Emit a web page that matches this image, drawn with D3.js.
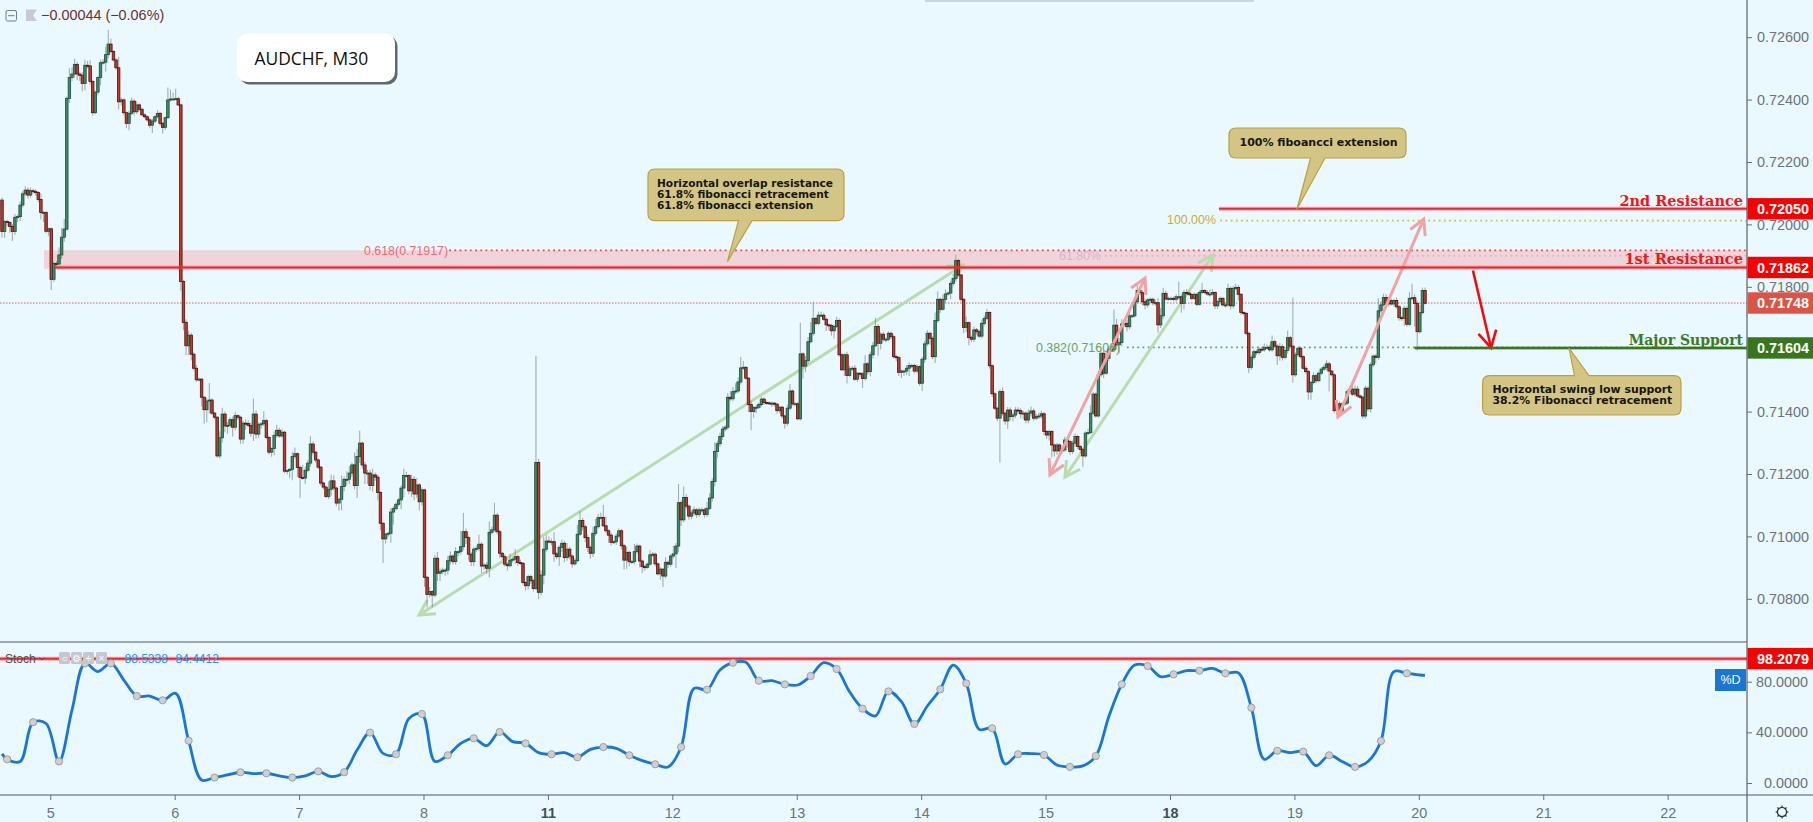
<!DOCTYPE html>
<html><head><meta charset="utf-8">
<script src="https://cdn.jsdelivr.net/npm/d3@7/dist/d3.min.js"></script>
<style>
html,body{margin:0;padding:0;background:#e9f9ff;overflow:hidden}
svg{display:block}
text{font-family:"Liberation Sans",Arial,sans-serif}
</style></head><body><svg id="c" width="1813" height="822"></svg>
<script>
// close of each 30-minute bar, in 1e-5 price units; each bar opens at the previous close
const firstOpen = 72078;
const closes = [
71977,72009,72006,71993,71977,72023,72025,72062,72098,72110,
72094,72108,72105,72102,72080,72038,72038,71978,71986,71824,
71875,71873,71902,71959,71985,72404,72471,72482,72513,72482,
72478,72452,72510,72508,72458,72358,72424,72471,72518,72520,
72544,72578,72554,72527,72502,72393,72399,72358,72324,72356,
72395,72361,72383,72369,72351,72345,72335,72318,72331,72345,
72356,72324,72311,72342,72399,72402,72402,72403,72383,71817,
71686,71611,71645,71584,71539,71502,71504,71446,71406,71434,
71437,71395,71382,71258,71316,71392,71354,71356,71374,71350,
71387,71382,71312,71363,71362,71356,71331,71392,71328,71358,
71361,71371,71317,71270,71282,71324,71340,71322,71334,71209,
71211,71215,71256,71265,71221,71189,71187,71212,71235,71296,
71270,71245,71222,71171,71158,71128,71151,71178,71155,71107,
71119,71160,71183,71183,71203,71229,71163,71256,71299,71229,
71203,71203,71163,71197,71190,71141,71042,70992,71007,71010,
71078,71089,71103,71117,71155,71195,71195,71146,71183,71136,
71165,71111,71149,70869,70814,70823,70812,70930,70882,70887,
70892,70892,70922,70937,70919,70951,70951,70967,71015,70996,
70943,70919,70959,70961,70975,70905,70908,70898,71013,71021,
71068,71015,70946,70935,70911,70906,70924,70927,70935,70916,
70914,70852,70842,70871,70858,70833,71237,70821,70876,70959,
70985,70983,70983,70944,70935,70965,70978,70932,70959,70937,
70912,70922,71007,71051,71031,70996,70965,70946,71010,71031,
71060,71061,71034,71018,71004,70981,70983,71001,71018,70970,
70924,70949,70919,70919,70951,70969,70921,70903,70901,70911,
70941,70943,70912,70880,70895,70873,70917,70911,70937,70944,
70969,71108,71053,71125,71097,71065,71075,71085,71070,71085,
71085,71070,71090,71123,71176,71272,71297,71320,71344,71350,
71446,71441,71464,71466,71495,71540,71542,71507,71423,71400,
71413,71414,71423,71440,71429,71428,71427,71427,71424,71403,
71414,71386,71363,71411,71466,71425,71425,71377,71585,71546,
71563,71624,71651,71699,71683,71709,71709,71696,71678,71676,
71659,71673,71692,71582,71534,71582,71516,71537,71539,71504,
71523,71521,71506,71553,71528,71582,71611,71673,71619,71648,
71632,71632,71651,71640,71576,71573,71526,71530,71530,71539,
71548,71548,71530,71544,71491,71568,71617,71651,71635,71576,
71692,71760,71728,71760,71777,71780,71811,71827,71884,71838,
71760,71670,71685,71638,71632,71662,71656,71642,71683,71699,
71718,71547,71457,71411,71379,71464,71395,71370,71405,71384,
71389,71405,71403,71393,71395,71373,71395,71402,71379,71384,
71386,71393,71336,71325,71336,71293,71274,71293,71274,71277,
71309,71304,71272,71299,71320,71288,71279,71258,71331,71333,
71395,71456,71386,71518,71587,71523,71571,71600,71598,71677,
71614,71621,71681,71683,71672,71707,71707,71752,71788,71781,
71752,71742,71758,71760,71749,71749,71678,71707,71779,71761,
71763,71763,71760,71768,71768,71747,71782,71780,71775,71763,
71776,71744,71782,71788,71782,71777,71777,71782,71739,71752,
71763,71742,71742,71795,71739,71795,71798,71776,71718,71715,
71651,71542,71574,71592,71589,71600,71598,71606,71606,71598,
71624,71610,71579,71608,71574,71596,71637,71610,71518,71582,
71603,71576,71539,71528,71463,71493,71515,71499,71523,71536,
71542,71553,71530,71518,71403,71425,71403,71425,71427,71464,
71472,71456,71472,71450,71446,71386,71475,71409,71550,71578,
71574,71723,71742,71766,71745,71756,71745,71756,71736,71701,
71699,71731,71680,71763,71765,71747,71656,71717,71788,71747];
// wick length above the body top of each bar, same units
const upperWick = [
8,6,6,5,8,10,6,12,8,12, 8,10,6,8,4,20,6,6,4,4, 6,8,25,30,32,6,30,22,18,8, 8,10,18,14,18,6,4,4,10,10,
25,45,18,4,6,35,8,5,4,8, 12,6,12,5,6,4,4,6,8,5, 10,5,4,4,40,30,20,32,6,4, 5,10,15,8,6,10,5,4,4,10,
55,6,4,4,20,20,8,10,8,10, 12,4,5,8,12,10,10,50,12,8, 6,30,6,6,4,12,18,8,10,4, 4,4,15,20,4,6,40,12,10,25,
8,4,4,4,4,6,25,20,18,4, 6,35,10,25,22,8,40,25,40,5, 10,10,10,20,8,8,4,4,5,5, 12,8,6,6,8,22,12,4,15,10,
22,6,8,4,4,15,4,10,20,10, 8,6,15,15,5,14,5,50,60,10, 6,6,8,10,30,6,6,10,35,10, 40,6,6,4,8,5,20,6,25,6,
10,4,4,6,6,6,342,12,15,40, 20,15,10,30,6,6,12,8,20,8, 6,8,30,30,8,6,10,6,20,25, 12,15,40,30,4,8,5,8,8,6,
6,18,6,5,25,8,5,5,5,5, 15,6,5,4,6,4,15,6,6,25, 10,60,8,35,10,6,8,10,6,8, 8,8,20,15,10,30,10,12,10,8,
14,20,15,25,14,35,20,4,4,12, 5,8,6,8,5,6,4,6,4,4, 5,5,4,12,22,5,6,6,100,6, 15,15,35,53,4,12,12,6,6,4,
6,6,12,6,6,5,10,10,6,10, 4,4,6,28,6,10,12,28,8,6, 8,5,6,6,6,6,6,5,5,10, 10,5,5,8,4,8,10,10,6,6,
25,25,6,15,15,6,8,15,18,6, 4,5,20,4,5,10,6,6,12,8, 12,4,5,6,4,8,14,5,10,8, 8,10,10,8,8,6,12,14,8,8,
10,10,5,5,6,5,5,6,5,8, 10,6,6,8,10,5,5,5,6,12, 25,8,5,12,8,8,25,12,15,50, 20,15,15,12,10,10,6,8,25,6,
8,8,6,6,5,8,15,25,18,8, 6,6,6,8,48,8,8,10,6,6, 6,5,6,25,5,8,15,10,4,6, 6,5,8,15,6,8,12,8,4,4,
4,6,8,6,6,8,8,12,10,8, 20,6,6,12,8,10,22,6,155,8, 6,6,5,6,5,6,10,6,6,6, 8,12,6,4,4,6,8,4,6,8,
10,20,12,10,6,5,8,6,8,5, 6,40,12,12,10,6,6,5,10,6, 6,8,6,20,45,10,8,25,10,10];
// wick length below the body bottom of each bar, same units
const lowerWick = [
20,20,12,20,30,10,15,14,8,6, 12,8,6,10,8,22,30,6,14,34, 8,12,5,12,15,5,15,12,12,20, 18,25,22,8,10,10,5,10,25,6,
30,12,5,5,6,25,12,8,16,22, 6,12,8,5,4,5,6,10,25,6, 5,8,20,8,4,6,4,4,4,30, 25,30,30,20,8,6,5,30,45,40,
40,6,6,6,8,15,20,25,8,30, 10,8,15,15,20,6,12,25,15,12, 12,8,6,8,15,22,8,6,6,6, 10,25,35,8,30,65,5,18,6,12,
8,8,6,8,8,6,8,20,8,10, 25,35,15,20,15,12,12,40,20,12, 35,35,15,20,12,25,22,77,15,8, 30,40,6,6,30,30,6,12,20,20,
12,28,12,30,42,10,38,8,25,25, 8,18,15,12,8,10,15,10,12,20, 20,15,15,10,8,22,12,18,30,6, 5,8,15,10,8,15,6,8,15,10,
6,6,15,12,10,10,5,22,10,30, 8,5,12,25,8,30,15,15,10,10, 12,6,6,5,12,15,15,18,12,8, 6,5,5,6,25,10,5,10,5,12,
30,28,15,6,8,5,20,20,12,5, 6,6,8,5,20,35,8,12,8,8, 45,20,20,8,8,12,10,8,10,8, 8,10,8,6,12,15,20,10,10,8,
8,6,8,8,6,8,6,5,25,60, 20,18,6,6,8,6,6,12,8,10, 8,8,18,8,6,6,5,5,6,40, 20,10,6,8,6,6,5,5,20,15,
15,25,6,6,5,20,25,6,6,6, 8,10,30,6,10,15,12,5,40,20, 8,10,6,8,6,12,12,18,15,12, 25,8,8,6,8,25,12,6,20,8,
20,8,12,5,10,6,20,8,10,6, 8,18,15,25,10,10,10,6,8,6, 5,10,10,6,10,142,8,12,25,12, 15,10,10,14,18,10,10,10,8,6,
8,8,12,12,18,40,18,12,14,8, 6,20,10,8,12,8,12,35,6,8, 5,6,5,5,6,15,5,10,6,6, 15,25,12,8,15,8,6,5,5,8,
12,15,8,8,8,10,25,10,10,5, 6,6,6,8,8,30,20,6,5,6, 5,6,5,6,5,6,8,5,10,10, 8,5,8,6,12,8,6,20,8,6,
6,18,8,8,8,6,6,6,5,6, 6,5,30,15,10,6,10,8,25,6, 6,6,5,6,25,25,6,8,6,6, 5,10,65,6,8,6,6,6,6,6,
6,6,8,6,6,10,8,8,12,8, 20,8,8,6,6,8,5,8,6,10, 8,25,8,6,6,74,60,6,5,4];
// %D value at the start, then at bar 2, 7, 12, ... (every 5 bars)
const stochStart = 23;
const stochD = [
18.7,17,48,47,17,57.6,94.5,88,94.5,81.3,68.7,68.7,65.3,70.8,33.4,2.4,4.3,6.4,8.5,7.4,
7.7,5.6,4.3,5.6,9.2,5,8.5,26,39.8,23.4,22.7,51,54.5,17,21.9,31.3,35.3,29.5,40.3,32.7,
31.3,24,22.7,24,20.3,26.6,28.4,27.4,21.9,17.7,14.8,12.7,28.4,74.7,73.7,89.2,95,95.3,80.8,80.8,
77.9,77.4,84.5,95,90,72,58.7,53,72.4,64.2,46.6,60.8,74,93.1,78.7,42.4,43.2,15,22.7,23.2,
22.1,14.2,12.7,13.5,21.3,52.4,77.9,93.1,92.4,84,85.8,88.7,88.7,90.5,86.6,87,59.5,18.7,25.5,24,
24.8,13.7,21.9,17,12.7,17,33.2,87.9,86.6,85.3];
const stochEnd = 85;
const dayBars = [19,67,115,163,211,259,307,355,403,451,499,547,595,643];
const dayLabels = ["5","6","7","8","11","12","13","14","15","18","19","20","21","22"];
const boldDays = ["11","18"];
const priceTicks = [0.726,0.724,0.722,0.72,0.718,0.716,0.714,0.712,0.71,0.708];
const stochTicks = [0,40,80];
const res1 = 0.71862, res2 = 0.7205, support = 0.71604, lastPrice = 0.71748, stochLevel = 98.2079;
const fib618 = 0.71917, fibExt618 = 0.71899, fibExt100 = 0.72012, fib382 = 0.71606;
// trend arrows: [bar, price, bar, price, head at start?]
const arrowsGreen = [[160.9,0.70748,370.8,0.7187,true],[410.1,0.7119,467.2,0.71902,true]];
const arrowsPink = [[404.3,0.71197,441,0.71828,true],[515.4,0.71383,548.5,0.72017,true]];
const arrowsRed = [[567.5,0.71852,574.5,0.71604,false]];

const svg = d3.select("#c");
const W = 1813, H = 822, axisX = 1747, paneTop = 642, paneBot = 795;
const x = d3.scaleLinear().domain([0,550]).range([2,1427.6]);
const y = d3.scaleLinear().domain([0.722,0.708]).range([162,598.8]);
const ys = d3.scaleLinear().domain([0,80]).range([783,681.7]);
const BG="#e9f9ff";
svg.append("rect").attr("width",W).attr("height",H).attr("fill",BG);
svg.append("rect").attr("x",925).attr("y",0).attr("width",329).attr("height",2).attr("fill","#c9d6dd");

// zone
svg.append("rect").attr("x",x(16.2)).attr("width",axisX-x(16.2)).attr("y",y(fib618)).attr("height",y(res1)-y(fib618)+1.5).attr("fill","#efd5da");

// last price line
svg.append("line").attr("x1",0).attr("x2",axisX).attr("y1",y(lastPrice)).attr("y2",y(lastPrice)).attr("stroke","#d9605a").attr("stroke-width",1).attr("stroke-dasharray","1.5 1.5");

// dotted levels
function dots(p,b0,col,w){svg.append("line").attr("x1",x(b0)).attr("x2",axisX).attr("y1",y(p)).attr("y2",y(p)).attr("stroke",col).attr("stroke-width",w||1.8).attr("stroke-dasharray","1.8 3.4");}
dots(fib618,172.5,"#f4434a");
dots(fibExt618,425.5,"#dcb4d4");
dots(fibExt100,470,"#d5bb4e");
dots(fib382,434,"#6da35f");

// arrows under candles
function arrowPath(a,size){
  const x1=x(a[0]),y1=y(a[1]),x2=x(a[2]),y2=y(a[3]);
  const ang=Math.atan2(y2-y1,x2-x1),s=size,da=0.5;
  let d=`M${x1},${y1}L${x2},${y2}`;
  d+=`M${x2-s*Math.cos(ang-da)},${y2-s*Math.sin(ang-da)}L${x2},${y2}L${x2-s*Math.cos(ang+da)},${y2-s*Math.sin(ang+da)}`;
  if(a[4]) d+=`M${x1+s*Math.cos(ang-da)},${y1+s*Math.sin(ang-da)}L${x1},${y1}L${x1+s*Math.cos(ang+da)},${y1+s*Math.sin(ang+da)}`;
  return d;
}
svg.selectAll(".ag").data(arrowsGreen).join("path").attr("d",d=>arrowPath(d,17)).attr("fill","none").attr("stroke","#b9dcac").attr("stroke-width",3);

// candles
const bars = closes.map((c,i)=>{
  const o = i? closes[i-1]:firstOpen;
  const top=Math.max(o,c), bot=Math.min(o,c);
  return {i,o:o/1e5,c:c/1e5,h:(top+(upperWick[i]||0))/1e5,l:(bot-(lowerWick[i]||0))/1e5};
});
const g = svg.append("g");
g.selectAll("line").data(bars).join("line")
 .attr("x1",d=>x(d.i)).attr("x2",d=>x(d.i)).attr("y1",d=>y(d.h)).attr("y2",d=>y(d.l))
 .attr("stroke","#6b6f73").attr("stroke-opacity",.55).attr("stroke-width",1.1);
g.selectAll("rect").data(bars).join("rect")
 .attr("x",d=>x(d.i)-1.25).attr("width",2.5)
 .attr("y",d=>Math.min(y(d.o),y(d.c))).attr("height",d=>Math.max(1,Math.abs(y(d.o)-y(d.c))))
 .attr("fill",d=>d.c>=d.o?"#3f8a66":"#c4392a")
 .attr("stroke",d=>d.c>=d.o?"#1f4d36":"#4a130d").attr("stroke-width",.8);

svg.selectAll(".ap").data(arrowsPink).join("path").attr("d",d=>arrowPath(d,17)).attr("fill","none").attr("stroke","#f0a3a3").attr("stroke-width",3);
svg.selectAll(".ar").data(arrowsRed).join("path").attr("d",d=>arrowPath(d,19)).attr("fill","none").attr("stroke","#f40c0c").attr("stroke-width",2.6);

// solid levels
function solid(yv,x0,col,halo){
  svg.append("line").attr("x1",x0).attr("x2",axisX).attr("y1",yv).attr("y2",yv).attr("stroke",halo).attr("stroke-width",4);
  svg.append("line").attr("x1",x0).attr("x2",axisX).attr("y1",yv).attr("y2",yv).attr("stroke",col).attr("stroke-width",2);
}
solid(y(res1),x(20.4),"#f7232a","rgba(255,60,60,.35)");
solid(y(res2),x(469.5),"#f7232a","rgba(255,60,60,.35)");
solid(y(support),x(545),"#38761d","rgba(56,118,29,.35)");

// fib labels
function lbl(t,xp,yp,col,size,anchor){return svg.append("text").attr("x",xp).attr("y",yp).attr("dy","0.35em").attr("fill",col).attr("font-size",size).attr("text-anchor",anchor||"start").text(t);}
lbl("0.618(0.71917)",364,y(fib618),"#f9676c",12.4);
lbl("61.80%",1059,y(fibExt618),"#d9b1d2",12.4);
lbl("100.00%",1167,y(fibExt100)-.5,"#cfa832",12.4);
lbl("0.382(0.71606)",1036,y(fib382),"#6f9f62",12.4);

// right-side names
function name(t,yp,col,size){svg.append("text").attr("x",1743).attr("y",yp).attr("dy","0.35em").attr("text-anchor","end").attr("fill",col).attr("font-size",size).attr("font-weight","bold").style("font-family","'DejaVu Serif',serif").text(t);}
name("2nd Resistance",200.5,"#f41414",14.5);
name("1st Resistance",259,"#f41414",14.6);
name("Major Support",340.5,"#3c7a1f",14);

// callouts
function callout(bx,by,bw,bh,px,lines,tx,ty0,fs){
  const r=7,b=by+bh,t=by,l=bx,R=bx+bw;
  const up=px[2]<t;
  let d=`M${l+r},${t}`;
  if(up) d+=`L${px[0]},${t}L${px[4]},${px[2]}L${px[1]},${t}`;
  d+=`L${R-r},${t}Q${R},${t} ${R},${t+r}L${R},${b-r}Q${R},${b} ${R-r},${b}`;
  if(!up) d+=`L${px[1]},${b}L${px[4]},${px[2]}L${px[0]},${b}`;
  d+=`L${l+r},${b}Q${l},${b} ${l},${b-r}L${l},${t+r}Q${l},${t} ${l+r},${t}Z`;
  svg.append("path").attr("d",d).attr("fill","#d3c685").attr("stroke","#bd9f42").attr("stroke-width",1.2);
  lines.forEach((s,i)=>svg.append("text").attr("x",tx).attr("y",ty0+i*10.9).attr("dy","0.35em").attr("fill","#161510").attr("font-size",fs).attr("font-weight","bold").style("font-family","'DejaVu Sans',sans-serif").text(s));
}
callout(648,169,196,51.7,[738.5,752,261.7,0,727.4],["Horizontal overlap resistance","61.8% fibonacci retracement","61.8% fibonacci extension"],657,183,10.6);
callout(1229,128,177,30,[1310.6,1325,209,0,1297],["100% fiboancci extension"],1239.5,142,11);
callout(1482.6,375.7,198.4,39.3,[1574.5,1589,348,0,1569],["Horizontal swing low support","38.2% Fibonacci retracement"],1492.4,389,10.9);

// title box
svg.append("rect").attr("x",239.5).attr("y",36).attr("width",158).attr("height",48.5).attr("rx",10).attr("fill","#2e3a3a").attr("opacity",.75);
svg.append("rect").attr("x",237).attr("y",33.5).attr("width",158).attr("height",48.5).attr("rx",10).attr("fill","#fff");
svg.append("text").attr("x",254.5).attr("y",59).attr("dy","0.36em").attr("font-size",17.4).attr("fill","#0d0d0d").style("font-family","'Open Sans',sans-serif").text("AUDCHF, M30");

// header
svg.append("rect").attr("x",6).attr("y",10.5).attr("width",10.5).attr("height",10.5).attr("rx",1.5).attr("fill","none").attr("stroke","#787b86");
svg.append("line").attr("x1",8).attr("x2",14.5).attr("y1",15.7).attr("y2",15.7).attr("stroke","#787b86");
svg.append("path").attr("d","M26,9.5H37L33,15.5L37,21H26Z").attr("fill","#c9cad1");
svg.append("text").attr("x",41).attr("y",15).attr("dy","0.36em").attr("font-size",14.4).attr("fill","#6f2f2b").text("\u22120.00044 (\u22120.06%)");

// pane separator
svg.append("line").attr("x1",0).attr("x2",axisX).attr("y1",paneTop).attr("y2",paneTop).attr("stroke","#55585f").attr("stroke-width",1);

// stochastic
solid(ys(stochLevel),0,"#f7232a","rgba(255,60,60,.4)");
const stochPts=[{i:0,v:stochStart}].concat(stochD.map((v,k)=>({i:2+5*k,v}))).concat([{i:549,v:stochEnd}]);
svg.append("path").datum(stochPts)
 .attr("d",d3.line().x(d=>x(d.i)).y(d=>ys(d.v)).curve(d3.curveCatmullRom.alpha(.5)))
 .attr("fill","none").attr("stroke","#1976d2").attr("stroke-width",2.8);
svg.selectAll(".sd").data(stochD.map((v,k)=>({i:2+5*k,v})).filter((d,k)=>k%2===0)).join("circle")
 .attr("cx",d=>x(d.i)).attr("cy",d=>ys(d.v)).attr("r",3.6).attr("fill","#cfcfcf").attr("stroke","#999").attr("stroke-width",.9);

// stoch legend
svg.append("text").attr("x",5).attr("y",658.5).attr("dy","0.35em").attr("font-size",12).attr("fill","#4b4f56").text("Stoch");
svg.append("path").attr("d","M39.5,657.5l2.5,2.5l2.5,-2.5").attr("fill","none").attr("stroke","#4b4f56");
[59,71,83,96].forEach((bx,i)=>{
  svg.append("rect").attr("x",bx).attr("y",652).attr("width",11).attr("height",12).attr("rx",1.5).attr("fill","#c4c7d0");
  svg.append("text").attr("x",bx+5.5).attr("y",658).attr("dy","0.35em").attr("text-anchor","middle").attr("font-size",10).attr("fill","#fff").text(["\u25CB","\u2699","+","\u00D7"][i]);
});
svg.append("text").attr("x",124.5).attr("y",658.5).attr("dy","0.35em").attr("font-size",12).attr("fill","#2196f3").text("88.5338");
svg.append("text").attr("x",175.5).attr("y",658.5).attr("dy","0.35em").attr("font-size",12).attr("fill","#2196f3").text("84.4412");

// axes
const GRAY="#6f7278";
const ax=svg.append("g").attr("transform",`translate(${axisX},0)`).call(d3.axisRight(y).tickValues(priceTicks).tickSize(5).tickPadding(5).tickFormat(d3.format(".5f")));
const ax2=svg.append("g").attr("transform",`translate(${axisX},0)`).call(d3.axisRight(ys).tickValues(stochTicks).tickSize(5).tickPadding(5).tickFormat(d3.format(".4f")));
const ax3=svg.append("g").attr("transform",`translate(-1,${paneBot})`).call(d3.axisBottom(x).tickValues(dayBars).tickSize(5).tickPadding(8).tickFormat((d,i)=>dayLabels[i]));
[ax,ax2,ax3].forEach(a=>{a.select(".domain").remove();a.selectAll("line").attr("stroke","#6a6d75");a.selectAll("text").attr("fill",GRAY).attr("font-size",14.4).style("font-family","'Liberation Sans',Arial,sans-serif");});
ax2.selectAll("text").attr("x",61).attr("text-anchor","end");
ax3.selectAll("text").filter((d,i)=>boldDays.includes(dayLabels[i])).attr("font-weight","bold").attr("fill","#4a4d52");
svg.append("line").attr("x1",0).attr("x2",W).attr("y1",paneBot).attr("y2",paneBot).attr("stroke","#55585f").attr("stroke-width",1.2);
svg.append("line").attr("x1",axisX).attr("x2",axisX).attr("y1",0).attr("y2",H).attr("stroke","#5d606b").attr("stroke-width",1.2);

// price tags
function tag(yv,t,col){
  svg.append("rect").attr("x",axisX+.5).attr("y",yv-10.7).attr("width",W-axisX).attr("height",21.4).attr("fill",col);
  svg.append("text").attr("x",1757).attr("y",yv).attr("dy","0.36em").attr("font-size",14.4).attr("font-weight","bold").attr("fill","#fff").text(t);
}
tag(y(res2),d3.format(".5f")(res2),"#f80000");
tag(y(res1),d3.format(".5f")(res1),"#f80000");
tag(y(lastPrice),d3.format(".5f")(lastPrice),"#db5446");
tag(y(support),d3.format(".5f")(support),"#38761d");
tag(ys(stochLevel),"98.2079","#f80000");

// %D chip
svg.append("rect").attr("x",1715).attr("y",669).attr("width",31).attr("height",22).attr("fill","#1976d2");
svg.append("text").attr("x",1730.5).attr("y",680).attr("dy","0.35em").attr("text-anchor","middle").attr("font-size",12.5).attr("fill","#fff").text("%D");

// settings glyph
const gear=svg.append("g").attr("transform","translate(1782,812)");
gear.append("circle").attr("r",4.6).attr("fill","none").attr("stroke","#33363d").attr("stroke-width",1.3);
d3.range(8).forEach(k=>gear.append("line").attr("x1",4.4*Math.cos(k*Math.PI/4)).attr("y1",4.4*Math.sin(k*Math.PI/4)).attr("x2",6.4*Math.cos(k*Math.PI/4)).attr("y2",6.4*Math.sin(k*Math.PI/4)).attr("stroke","#33363d").attr("stroke-width",1.2));
</script></body></html>
